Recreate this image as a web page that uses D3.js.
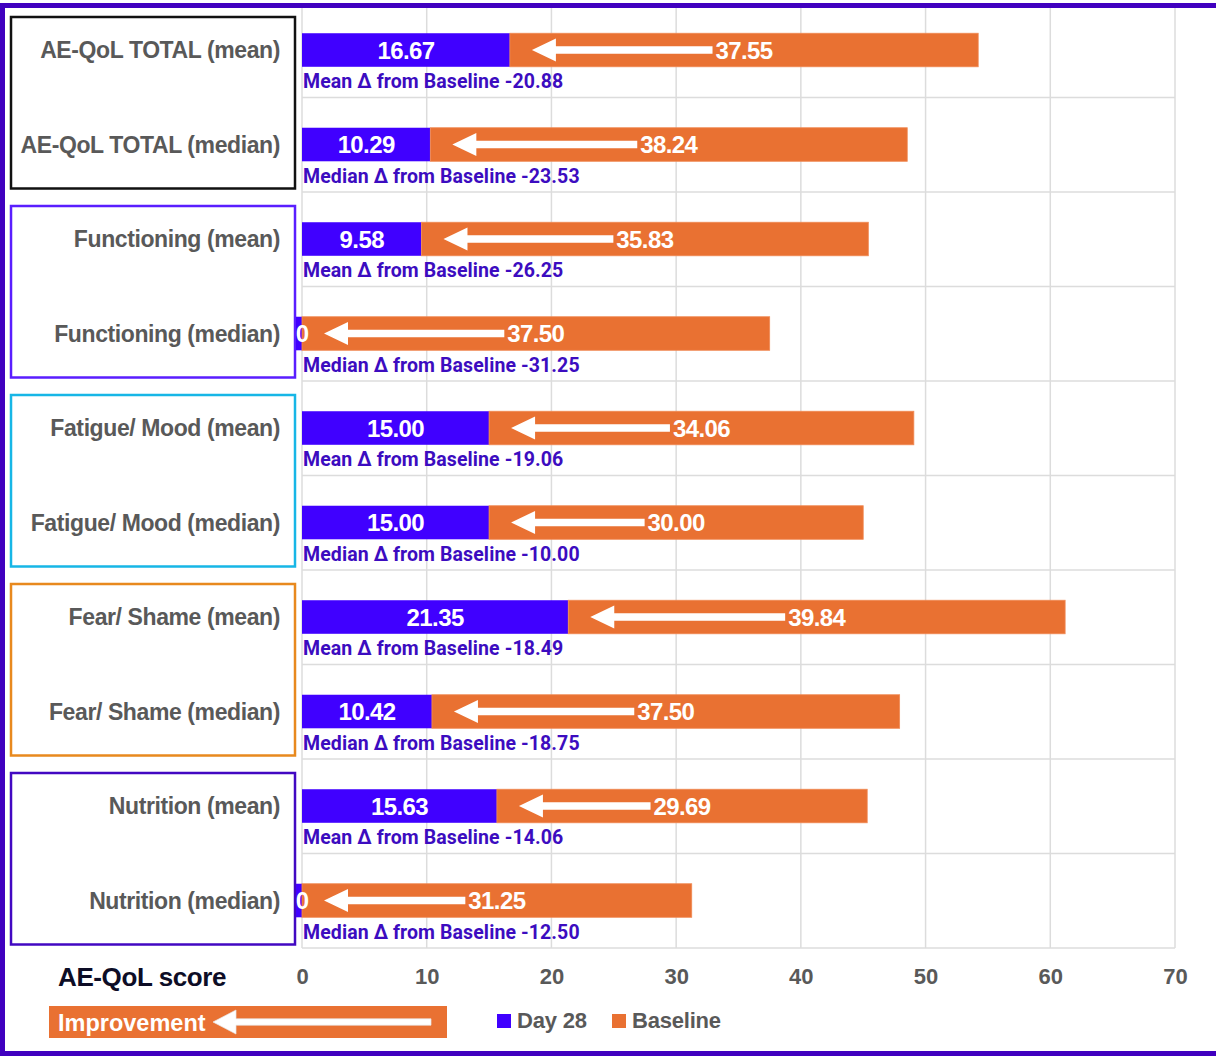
<!DOCTYPE html>
<html>
<head>
<meta charset="utf-8">
<script src="https://cdn.jsdelivr.net/npm/d3@7"></script>
<style>
  html, body { margin: 0; padding: 0; background: #fff; }
  svg { display: block; }
  text { font-family: "Liberation Sans", Arial, sans-serif; font-weight: bold; }
  .delta { font-family: Roboto, "Noto Sans", sans-serif; font-weight: 700; }
</style>
</head>
<body>
<svg id="chart" width="1216" height="1056"></svg>
<script>
// AE-QoL domain scores: Day 28 vs Baseline
const categories = [
  "AE-QoL TOTAL (mean)", "AE-QoL TOTAL (median)",
  "Functioning (mean)", "Functioning (median)",
  "Fatigue/ Mood (mean)", "Fatigue/ Mood (median)",
  "Fear/ Shame (mean)", "Fear/ Shame (median)",
  "Nutrition (mean)", "Nutrition (median)"
];
const day28 = [16.67, 10.29, 9.58, 0, 15.00, 15.00, 21.35, 10.42, 15.63, 0];
const baseline = [37.55, 38.24, 35.83, 37.50, 34.06, 30.00, 39.84, 37.50, 29.69, 31.25];
const deltaKind = ["Mean", "Median", "Mean", "Median", "Mean", "Median", "Mean", "Median", "Mean", "Median"];
const deltas = [-20.88, -23.53, -26.25, -31.25, -19.06, -10.00, -18.49, -18.75, -14.06, -12.50];
const xTicks = [0, 10, 20, 30, 40, 50, 60, 70];
const domainGroups = ["AE-QoL TOTAL", "Functioning", "Fatigue/ Mood", "Fear/ Shame", "Nutrition"];
const groupColors = ["#111111", "#5a1eff", "#17b6e6", "#e8891e", "#4208c2"];
const seriesNames = ["Day 28", "Baseline"];
const seriesColors = ["#4000ff", "#e97132"];

const svg = d3.select("#chart");
const W = 1216, H = 1056;

const x = d3.scaleLinear().domain([0, 70]).range([302, 1175]);
const y = d3.scaleBand().domain(d3.range(categories.length)).range([3, 948]).paddingInner(0);
const bw = y.bandwidth();
const barOff = bw * 0.32, barH = bw * 0.355;

// gridlines
const grid = svg.append("g").attr("stroke", "#dcdcdc").attr("stroke-width", 1.5);
grid.selectAll("line.v").data(xTicks).join("line")
  .attr("x1", d => x(d)).attr("x2", d => x(d))
  .attr("y1", y.range()[0]).attr("y2", y.range()[1]);
grid.selectAll("line.h").data(d3.range(1, categories.length + 1)).join("line")
  .attr("x1", x(0)).attr("x2", x(70))
  .attr("y1", d => y.range()[0] + d * bw).attr("y2", d => y.range()[0] + d * bw);

// group frames around each domain's mean/median pair
svg.append("g").selectAll("rect").data(domainGroups).join("rect")
  .attr("x", 11).attr("width", 284)
  .attr("y", (d, i) => y(i * 2) + 14)
  .attr("height", (d, i) => y(i * 2 + 1) + bw - 3.5 - (y(i * 2) + 14))
  .attr("fill", "none")
  .attr("stroke", (d, i) => groupColors[i])
  .attr("stroke-width", 2.5);

// category labels
svg.append("g").selectAll("text").data(categories).join("text")
  .attr("x", 280).attr("y", (d, i) => y(i) + barOff + barH / 2)
  .attr("dy", "0.35em").attr("text-anchor", "end")
  .attr("fill", "#595959").attr("font-size", 23)
  .attr("letter-spacing", -0.4)
  .text(d => d);

const rows = categories.map((c, i) => ({ i, d28: day28[i], base: baseline[i] }));

// Day 28 segments (zero values keep a thin sliver left of the axis)
svg.append("g").selectAll("rect").data(rows).join("rect")
  .attr("x", d => d.d28 > 0 ? x(0) : x(0) - 6)
  .attr("width", d => d.d28 > 0 ? x(d.d28) - x(0) : 6)
  .attr("y", d => y(d.i) + barOff).attr("height", barH)
  .attr("fill", seriesColors[0]);

// Baseline segments stacked after Day 28
svg.append("g").selectAll("rect").data(rows).join("rect")
  .attr("x", d => x(d.d28))
  .attr("width", d => x(d.d28 + d.base) - x(d.d28))
  .attr("y", d => y(d.i) + barOff).attr("height", barH)
  .attr("fill", seriesColors[1])
  .attr("stroke", "#f08a55").attr("stroke-width", 0.8);

const fmt = v => v === 0 ? "0" : v.toFixed(2);

// Day 28 value labels
svg.append("g").selectAll("text").data(rows).join("text")
  .attr("x", d => (x(0) + x(d.d28)) / 2)
  .attr("y", d => y(d.i) + barOff + barH / 2)
  .attr("dy", "0.36em").attr("text-anchor", "middle")
  .attr("fill", "#fff").attr("font-size", 24)
  .attr("letter-spacing", -0.6)
  .text(d => fmt(d.d28));

// Baseline value labels
const baseLabels = svg.append("g").selectAll("text").data(rows).join("text")
  .attr("x", d => (x(d.d28) + x(d.d28 + d.base)) / 2)
  .attr("y", d => y(d.i) + barOff + barH / 2)
  .attr("dy", "0.36em").attr("text-anchor", "middle")
  .attr("fill", "#fff").attr("font-size", 24)
  .attr("letter-spacing", -0.6)
  .text(d => fmt(d.base));

// improvement arrows: from the baseline label back toward the Day 28 value
function arrowPath(x1, x2, cy, shaft, headL, headH) {
  return `M${x1},${cy} L${x1 + headL},${cy - headH} L${x1 + headL},${cy - shaft}` +
    ` L${x2},${cy - shaft} L${x2},${cy + shaft} L${x1 + headL},${cy + shaft}` +
    ` L${x1 + headL},${cy + headH} Z`;
}
const labelWidths = baseLabels.nodes().map(n => n.getComputedTextLength());
svg.append("g").selectAll("path").data(rows).join("path")
  .attr("d", d => {
    const cx = (x(d.d28) + x(d.d28 + d.base)) / 2;
    const tail = cx - labelWidths[d.i] / 2 - 3;
    return arrowPath(x(d.d28) + 22, tail, y(d.i) + barOff + barH / 2, 3.8, 24, 11.5);
  })
  .attr("fill", "#fff");

// change-from-baseline annotations
svg.append("g").selectAll("text").data(rows).join("text")
  .attr("class", "delta")
  .attr("x", x(0) + 1).attr("y", d => y(d.i) + 85)
  .attr("fill", "#3c0cc0").attr("font-size", 19.5)
  .attr("letter-spacing", 0.1)
  .text(d => `${deltaKind[d.i]} \u0394 from Baseline ${deltas[d.i].toFixed(2)}`);

// x axis tick labels
const axis = d3.axisBottom(x).tickValues(xTicks).tickSize(0).tickPadding(20);
const ax = svg.append("g").attr("transform", `translate(0,${y.range()[1]})`).call(axis);
ax.select(".domain").remove();
ax.selectAll("text")
  .attr("fill", "#595959").attr("font-size", 22)
  .attr("font-family", "'Liberation Sans', Arial, sans-serif").attr("font-weight", "bold");

svg.append("text").attr("x", 58).attr("y", 986)
  .attr("fill", "#0d0d26").attr("font-size", 26).attr("letter-spacing", -0.4)
  .text("AE-QoL score");

// improvement key
svg.append("rect").attr("x", 49).attr("y", 1006).attr("width", 398).attr("height", 32)
  .attr("fill", seriesColors[1]);
svg.append("text").attr("x", 58).attr("y", 1031)
  .attr("fill", "#fff").attr("font-size", 23.5)
  .text("Improvement");
svg.append("path").attr("d", arrowPath(213, 431, 1022, 3.2, 23, 12))
  .attr("fill", "#fff").attr("stroke", "#e6e6e6").attr("stroke-width", 0.7);

// series legend
const leg = svg.append("g").selectAll("g").data(seriesNames).join("g")
  .attr("transform", (d, i) => `translate(${[497, 612][i]},1014)`);
leg.append("rect").attr("width", 14).attr("height", 14).attr("fill", (d, i) => seriesColors[i]);
leg.append("text").attr("x", 20).attr("y", 14)
  .attr("fill", "#595959").attr("font-size", 22).attr("letter-spacing", -0.2)
  .text(d => d);

// outer frame
svg.append("rect").attr("x", 2.5).attr("y", 5.5).attr("width", W + 20).attr("height", 1048)
  .attr("fill", "none").attr("stroke", "#4000bf").attr("stroke-width", 5);
</script>
</body>
</html>
